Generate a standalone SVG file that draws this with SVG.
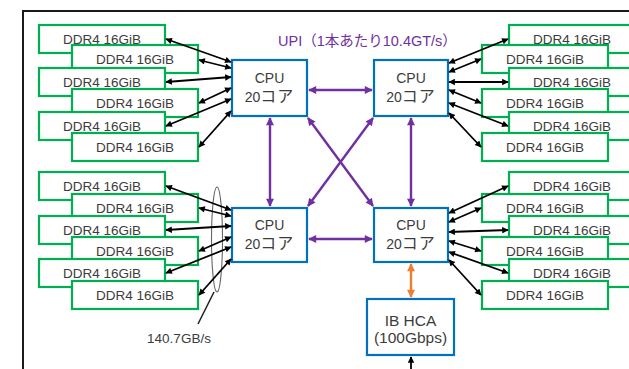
<svg xmlns="http://www.w3.org/2000/svg" width="629" height="369" viewBox="0 0 629 369">
<style>
.frame{fill:none;stroke:#1a1a1a;stroke-width:2}
.dimm{fill:#fff;stroke:#00B050;stroke-width:2.2}
.cpu{fill:#fff;stroke:#0070C0;stroke-width:2.2}
.t{font-family:'Liberation Sans','Noto Sans CJK JP',sans-serif;fill:#3c3c3c;text-anchor:middle}
.dt{font-size:13.5px}
.ct{font-size:14px}
.jp{font-size:16px;letter-spacing:1px}
.mem{stroke:#000;stroke-width:1.8;fill:none;marker-start:url(#ak);marker-end:url(#ak)}
.upi{stroke:#7030A0;stroke-width:2.4;fill:none;marker-start:url(#ap);marker-end:url(#ap)}
.pcie{stroke:#ED7D31;stroke-width:2.4;fill:none;marker-start:url(#ao);marker-end:url(#ao)}
</style>
<defs>
<marker id="ak" viewBox="0 0 10 10" refX="9" refY="5" markerWidth="8" markerHeight="6.5" markerUnits="userSpaceOnUse" orient="auto-start-reverse"><path d="M0,0 L10,5 L0,10 z" fill="#000"/></marker>
<marker id="ap" viewBox="0 0 10 10" refX="9" refY="5" markerWidth="9" markerHeight="8" markerUnits="userSpaceOnUse" orient="auto-start-reverse"><path d="M0,0 L10,5 L0,10 z" fill="#7030A0"/></marker>
<marker id="ao" viewBox="0 0 10 10" refX="9" refY="5" markerWidth="9" markerHeight="8" markerUnits="userSpaceOnUse" orient="auto-start-reverse"><path d="M0,0 L10,5 L0,10 z" fill="#ED7D31"/></marker>
</defs>
<rect width="629" height="369" fill="#fff"/>
<rect class="frame" x="23" y="11" width="700" height="420"/>

<!-- top-left DIMMs -->
<g id="dimm-tl-b1"><rect class="dimm" x="39" y="25" width="126" height="28"/><text class="t dt" x="102" y="44">DDR4 16GiB</text></g>
<g id="dimm-tl-f1"><rect class="dimm" x="72" y="45" width="126" height="28"/><text class="t dt" x="135" y="64">DDR4 16GiB</text></g>
<g id="dimm-tl-b2"><rect class="dimm" x="39" y="68" width="126" height="28"/><text class="t dt" x="102" y="87">DDR4 16GiB</text></g>
<g id="dimm-tl-f2"><rect class="dimm" x="72" y="89" width="126" height="28"/><text class="t dt" x="135" y="108">DDR4 16GiB</text></g>
<g id="dimm-tl-b3"><rect class="dimm" x="39" y="112" width="126" height="28"/><text class="t dt" x="102" y="131">DDR4 16GiB</text></g>
<g id="dimm-tl-f3"><rect class="dimm" x="72" y="133" width="126" height="28"/><text class="t dt" x="135" y="152">DDR4 16GiB</text></g>

<!-- bottom-left DIMMs -->
<g id="dimm-bl-b1"><rect class="dimm" x="39" y="172" width="126" height="28"/><text class="t dt" x="102" y="191">DDR4 16GiB</text></g>
<g id="dimm-bl-f1"><rect class="dimm" x="72" y="194" width="126" height="28"/><text class="t dt" x="135" y="213">DDR4 16GiB</text></g>
<g id="dimm-bl-b2"><rect class="dimm" x="39" y="216" width="126" height="28"/><text class="t dt" x="102" y="235">DDR4 16GiB</text></g>
<g id="dimm-bl-f2"><rect class="dimm" x="72" y="237" width="126" height="28"/><text class="t dt" x="135" y="256">DDR4 16GiB</text></g>
<g id="dimm-bl-b3"><rect class="dimm" x="39" y="259" width="126" height="28"/><text class="t dt" x="102" y="278">DDR4 16GiB</text></g>
<g id="dimm-bl-f3"><rect class="dimm" x="72" y="281" width="126" height="28"/><text class="t dt" x="135" y="300">DDR4 16GiB</text></g>

<!-- top-right DIMMs -->
<g id="dimm-tr-b1"><rect class="dimm" x="509" y="25" width="126" height="28"/><text class="t dt" x="572" y="44">DDR4 16GiB</text></g>
<g id="dimm-tr-f1"><rect class="dimm" x="482" y="45" width="126" height="28"/><text class="t dt" x="545" y="64">DDR4 16GiB</text></g>
<g id="dimm-tr-b2"><rect class="dimm" x="509" y="68" width="126" height="28"/><text class="t dt" x="572" y="87">DDR4 16GiB</text></g>
<g id="dimm-tr-f2"><rect class="dimm" x="482" y="89" width="126" height="28"/><text class="t dt" x="545" y="108">DDR4 16GiB</text></g>
<g id="dimm-tr-b3"><rect class="dimm" x="509" y="112" width="126" height="28"/><text class="t dt" x="572" y="131">DDR4 16GiB</text></g>
<g id="dimm-tr-f3"><rect class="dimm" x="482" y="133" width="126" height="28"/><text class="t dt" x="545" y="152">DDR4 16GiB</text></g>

<!-- bottom-right DIMMs -->
<g id="dimm-br-b1"><rect class="dimm" x="509" y="172" width="126" height="28"/><text class="t dt" x="572" y="191">DDR4 16GiB</text></g>
<g id="dimm-br-f1"><rect class="dimm" x="482" y="194" width="126" height="28"/><text class="t dt" x="545" y="213">DDR4 16GiB</text></g>
<g id="dimm-br-b2"><rect class="dimm" x="509" y="216" width="126" height="28"/><text class="t dt" x="572" y="235">DDR4 16GiB</text></g>
<g id="dimm-br-f2"><rect class="dimm" x="482" y="237" width="126" height="28"/><text class="t dt" x="545" y="256">DDR4 16GiB</text></g>
<g id="dimm-br-b3"><rect class="dimm" x="509" y="259" width="126" height="28"/><text class="t dt" x="572" y="278">DDR4 16GiB</text></g>
<g id="dimm-br-f3"><rect class="dimm" x="482" y="281" width="126" height="28"/><text class="t dt" x="545" y="300">DDR4 16GiB</text></g>

<!-- CPUs -->
<g id="cpu-tl"><rect class="cpu" x="232" y="60" width="75" height="56"/><text class="t ct" x="269.5" y="83">CPU</text><text class="t ct" x="269.5" y="102">20<tspan class="jp">コア</tspan></text></g>
<g id="cpu-tr"><rect class="cpu" x="374" y="60" width="74" height="56"/><text class="t ct" x="411" y="83">CPU</text><text class="t ct" x="411" y="102">20<tspan class="jp">コア</tspan></text></g>
<g id="cpu-bl"><rect class="cpu" x="232" y="208" width="75" height="54"/><text class="t ct" x="269.5" y="230">CPU</text><text class="t ct" x="269.5" y="249">20<tspan class="jp">コア</tspan></text></g>
<g id="cpu-br"><rect class="cpu" x="374" y="208" width="74" height="54"/><text class="t ct" x="411" y="230">CPU</text><text class="t ct" x="411" y="249">20<tspan class="jp">コア</tspan></text></g>

<!-- IB HCA -->
<g id="ib-hca"><rect class="cpu" x="367" y="299" width="87" height="56"/><text class="t" style="font-size:15.5px" x="410.5" y="326">IB HCA</text><text class="t" style="font-size:15.5px" x="410.5" y="343">(100Gbps)</text></g>

<!-- labels -->
<g id="upi-label"><text x="278" y="46" style="font-family:'Liberation Sans','Noto Sans CJK JP',sans-serif;font-size:14.5px;fill:#7030A0">UPI（1本あたり10.4GT/s）</text></g>
<g id="bw-annotation">
<ellipse cx="217" cy="239.5" rx="5.5" ry="52.5" fill="none" stroke="#666" stroke-width="1.1"/>
<line x1="214" y1="292" x2="198" y2="324" stroke="#222" stroke-width="1.5"/>
<text class="t" style="font-size:13.5px" x="179" y="343">140.7GB/s</text>
</g>

<g id="connectors">
<!-- top-left memory -->
<line class="mem" x1="166" y1="39" x2="231" y2="62"/>
<line class="mem" x1="199" y1="60" x2="231" y2="68"/>
<line class="mem" x1="166" y1="82" x2="231" y2="77"/>
<line class="mem" x1="199" y1="103" x2="231" y2="88"/>
<line class="mem" x1="166" y1="126" x2="231" y2="99"/>
<line class="mem" x1="199" y1="147" x2="231" y2="111"/>
<!-- bottom-left memory -->
<line class="mem" x1="166" y1="186" x2="231" y2="210"/>
<line class="mem" x1="199" y1="208" x2="231" y2="216"/>
<line class="mem" x1="166" y1="230" x2="231" y2="226"/>
<line class="mem" x1="199" y1="251" x2="231" y2="237"/>
<line class="mem" x1="166" y1="273" x2="231" y2="247"/>
<line class="mem" x1="199" y1="295" x2="231" y2="259"/>
<!-- top-right memory -->
<line class="mem" x1="449" y1="63" x2="508" y2="39"/>
<line class="mem" x1="449" y1="72" x2="481" y2="59"/>
<line class="mem" x1="449" y1="82" x2="508" y2="82"/>
<line class="mem" x1="449" y1="90" x2="481" y2="103"/>
<line class="mem" x1="449" y1="103" x2="508" y2="126"/>
<line class="mem" x1="449" y1="113" x2="481" y2="147"/>
<!-- bottom-right memory -->
<line class="mem" x1="449" y1="213" x2="508" y2="186"/>
<line class="mem" x1="449" y1="222" x2="481" y2="208"/>
<line class="mem" x1="449" y1="232" x2="508" y2="230"/>
<line class="mem" x1="449" y1="241" x2="481" y2="251"/>
<line class="mem" x1="449" y1="252" x2="508" y2="273"/>
<line class="mem" x1="449" y1="260" x2="481" y2="295"/>
<!-- UPI -->
<line class="upi" x1="309" y1="90" x2="372" y2="90"/>
<line class="upi" x1="309" y1="239" x2="372" y2="239"/>
<line class="upi" x1="270" y1="118" x2="270" y2="206"/>
<line class="upi" x1="411" y1="118" x2="411" y2="206"/>
<line class="upi" x1="308" y1="118" x2="373" y2="206"/>
<line class="upi" x1="373" y1="118" x2="308" y2="206"/>
<!-- PCIe -->
<line class="pcie" x1="411" y1="264" x2="411" y2="297"/>
<line x1="411" y1="372" x2="411" y2="357" stroke="#000" stroke-width="1.8" marker-end="url(#ak)"/>
</g>
</svg>
